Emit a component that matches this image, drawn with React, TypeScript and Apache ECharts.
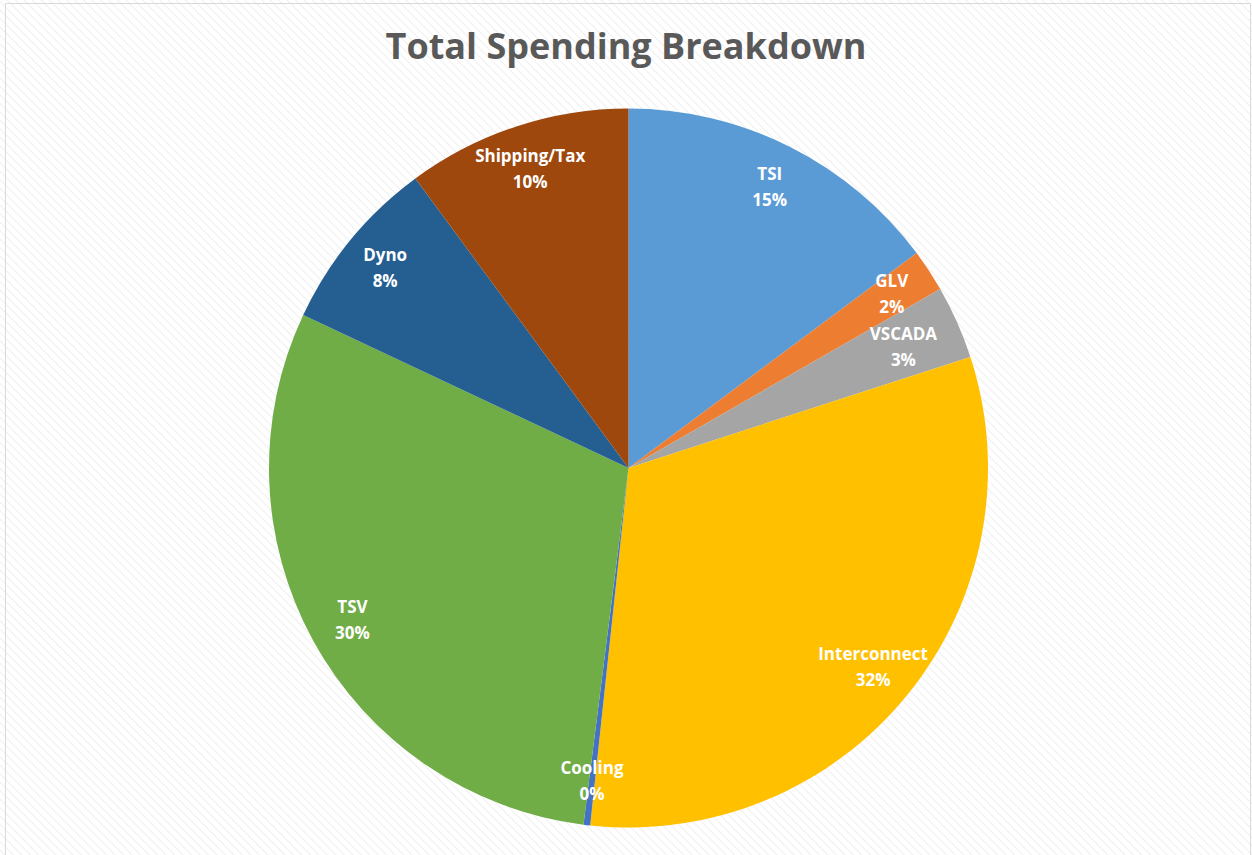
import React, { useEffect, useRef } from "react";
import * as echarts from "echarts";

// Spending categories, clockwise from 12 o'clock
const categories = ["TSI", "GLV", "VSCADA", "Interconnect", "Cooling", "TSV", "Dyno", "Shipping/Tax"];
// Share of total spending (percent)
const shares = [14.8, 1.9, 3.3, 31.7, 0.3, 30.0, 7.9, 10.1];
const sliceColors = ["#5B9BD5", "#ED7D31", "#A5A5A5", "#FFC000", "#4472C4", "#70AD47", "#255E91", "#9E480E"];

const chartTitle = "Total Spending Breakdown";

// small nudges that keep the two thin-slice labels apart
const labelOffsets: Record<string, number[]> = {
  GLV: [0, -2],
  VSCADA: [-13, 6],
};

export default function App() {
  const ref = useRef<HTMLDivElement>(null);

  useEffect(() => {
    if (!ref.current) return;
    const chart = echarts.init(ref.current, null, { renderer: "svg" });
    const data = categories.map((name, i) => ({
      name,
      value: shares[i],
      itemStyle: { color: sliceColors[i] },
    }));
    const center = [628.5, 468];
    const outer = 359.5;
    const labelRadius = 312;
    const ringHalf = 160;

    chart.setOption({
      animation: false,
      title: {
        text: chartTitle,
        left: "center",
        top: 22,
        textStyle: {
          fontFamily: "Open Sans",
          fontWeight: "bold",
          fontSize: 36,
          color: "#595959",
        },
      },
      graphic: [
        {
          type: "rect",
          shape: { x: 5.5, y: 3.5, width: 1245, height: 860 },
          style: { fill: "none", stroke: "#d9d9d9", lineWidth: 1 },
          silent: true,
        },
      ],
      series: [
        {
          type: "pie",
          center,
          radius: [0, outer],
          startAngle: 90,
          clockwise: true,
          silent: true,
          percentPrecision: 0,
          label: { show: false },
          labelLine: { show: false },
          itemStyle: { borderWidth: 0 },
          data,
        },
        {
          // transparent ring whose mid-radius carries the labels near the rim
          type: "pie",
          center,
          radius: [labelRadius - ringHalf, labelRadius + ringHalf],
          startAngle: 90,
          clockwise: true,
          silent: true,
          avoidLabelOverlap: false,
          percentPrecision: 0,
          itemStyle: { color: "rgba(0,0,0,0)", borderWidth: 0 },
          label: {
            show: true,
            position: "inside",
            formatter: "{b}\n{d}%",
            color: "#ffffff",
            fontFamily: "Open Sans",
            fontWeight: "bold",
            fontSize: 17,
            lineHeight: 26,
          },
          labelLayout: { hideOverlap: false },
          labelLine: { show: false },
          data: categories.map((name, i) => ({
            name,
            value: shares[i],
            label: labelOffsets[name] ? { offset: labelOffsets[name] } : undefined,
          })),
        },
      ],
    });
    return () => chart.dispose();
  }, []);

  return (
    <div
      ref={ref}
      style={{
        position: "fixed",
        left: 0,
        top: 0,
        width: 1252,
        height: 855,
        background:
          "repeating-linear-gradient(45deg, #ffffff 0px, #ffffff 2.5px, #efefef 3.5px, #ffffff 4.5px, #ffffff 6px)",
      }}
    />
  );
}
